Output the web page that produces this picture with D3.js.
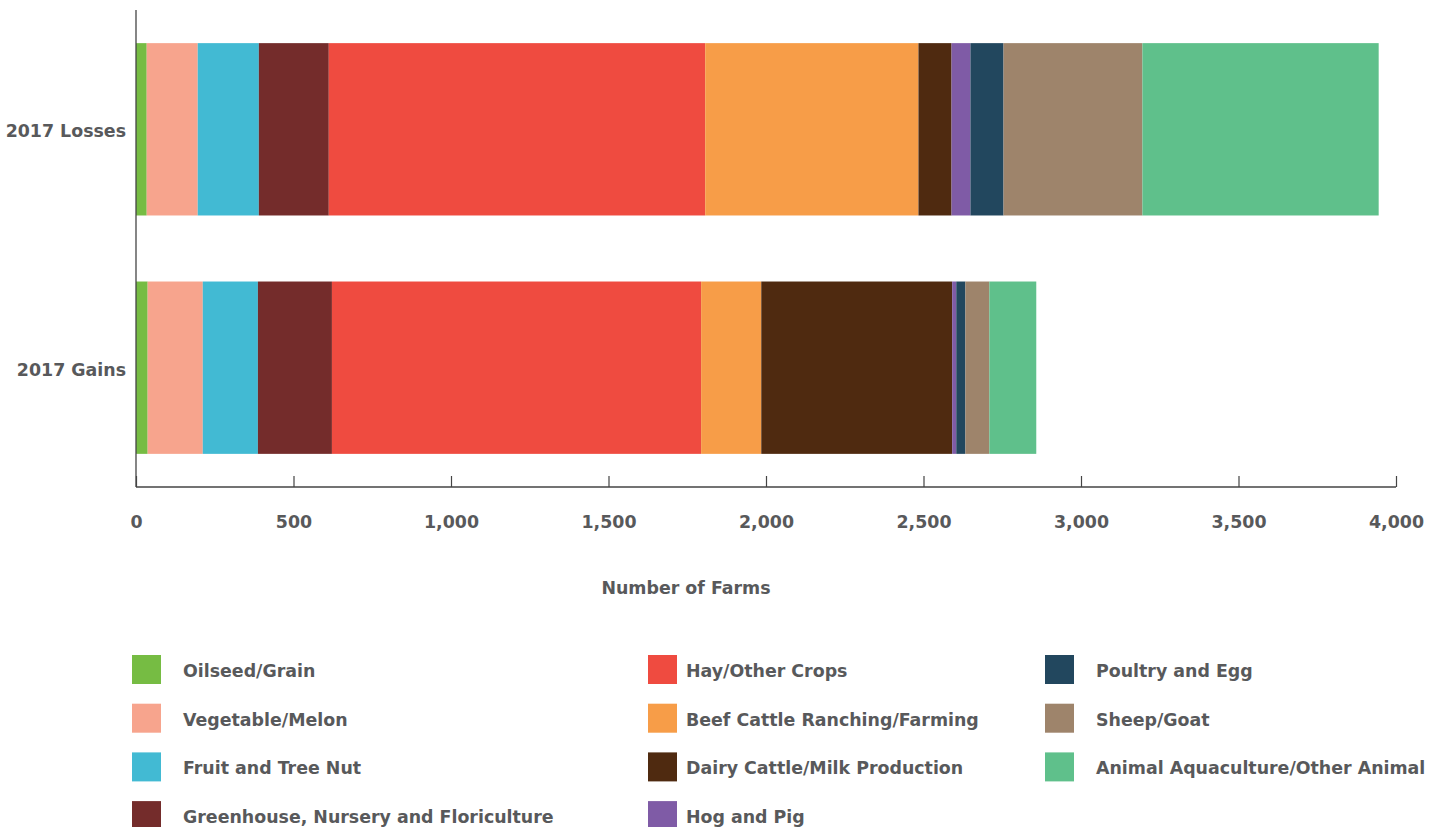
<!DOCTYPE html>
<html>
<head>
<meta charset="utf-8">
<script src="https://cdn.jsdelivr.net/npm/d3@7"></script>
<style>
  html, body { margin: 0; padding: 0; background: #fff; }
  svg text { font-family: "DejaVu Sans", Lato, sans-serif; font-weight: 700; fill: #58595b; }
</style>
</head>
<body>
<svg id="chart" width="1446" height="827"></svg>
<script>
// Farm types, in stacking order
const categories = [
  "Oilseed/Grain", "Vegetable/Melon", "Fruit and Tree Nut",
  "Greenhouse, Nursery and Floriculture", "Hay/Other Crops",
  "Beef Cattle Ranching/Farming", "Dairy Cattle/Milk Production",
  "Hog and Pig", "Poultry and Egg", "Sheep/Goat",
  "Animal Aquaculture/Other Animal"
];
const colors = [
  "#76bc43", "#f7a48d", "#42bad3", "#742c2b", "#ef4b40",
  "#f79d48", "#4f2a10", "#7f5ba6", "#22475e", "#9e846b", "#5fc08b"
];
const rows = ["2017 Losses", "2017 Gains"];
// Number of farms per type
const losses = [34, 162, 194, 222, 1195, 677, 105, 60, 105, 441, 750];
const gains  = [37, 175, 175, 235, 1172, 191, 606, 13, 29, 76, 149];
const xTicks = [0, 500, 1000, 1500, 2000, 2500, 3000, 3500, 4000];

const table = rows.map((r, i) => {
  const vals = i === 0 ? losses : gains;
  const o = { row: r };
  categories.forEach((c, j) => { o[c] = vals[j]; });
  return o;
});

const svg = d3.select("#chart");
const plotLeft = 136, plotRight = 1396, plotTop = 10, plotBottom = 487;
const fontSize = "17.4px";

const x = d3.scaleLinear().domain([0, 4000]).range([plotLeft, plotRight]);
const y = d3.scaleBand().domain(rows).range([plotTop, plotBottom])
  .paddingInner(0.277).paddingOuter(0.139);
const color = d3.scaleOrdinal().domain(categories).range(colors);

const series = d3.stack().keys(categories)(table);

svg.append("g").selectAll("g")
  .data(series).join("g")
  .attr("fill", d => color(d.key))
  .selectAll("rect")
  .data(d => d).join("rect")
  .attr("x", d => x(d[0]))
  .attr("width", d => x(d[1]) - x(d[0]))
  .attr("y", d => y(d.data.row))
  .attr("height", y.bandwidth());

// x axis: ticks point up into the plot, labels well below
const xAxis = svg.append("g")
  .attr("transform", `translate(0,${plotBottom})`)
  .call(d3.axisBottom(x).tickValues(xTicks).tickSize(-11).tickPadding(29)
    .tickFormat(d3.format(",")));
xAxis.select(".domain").attr("stroke", "#444").attr("stroke-width", 1.3)
  .attr("d", `M${plotLeft},0H${plotRight}`);
xAxis.selectAll(".tick line").attr("stroke", "#444").attr("stroke-width", 1.2);
xAxis.selectAll(".tick text").style("font-size", fontSize)
  .style("font-family", "'DejaVu Sans', sans-serif").attr("fill", "#58595b");

// y axis: plain line with category labels
svg.append("line")
  .attr("x1", plotLeft).attr("x2", plotLeft).attr("y1", plotTop).attr("y2", plotBottom)
  .attr("stroke", "#444").attr("stroke-width", 1.3);
svg.append("g").selectAll("text")
  .data(rows).join("text")
  .attr("x", 126)
  .attr("y", d => y(d) + y.bandwidth() / 2 + 2)
  .attr("dy", "0.35em")
  .attr("text-anchor", "end")
  .style("font-size", fontSize)
  .text(d => d);

svg.append("text")
  .attr("x", 686).attr("y", 588).attr("dy", "0.35em")
  .attr("text-anchor", "middle")
  .style("font-size", fontSize)
  .text("Number of Farms");

// legend, filled column by column
const colX = [132, 648, 1045];
const colTextX = [51, 38, 51];
const legend = svg.append("g").selectAll("g")
  .data(categories).join("g")
  .attr("transform", (d, i) => `translate(${colX[Math.floor(i / 4)]},${655 + (i % 4) * 48.7})`);
legend.append("rect")
  .attr("width", 29).attr("height", 29)
  .attr("fill", d => color(d));
legend.append("text")
  .attr("x", (d, i) => colTextX[Math.floor(i / 4)]).attr("y", 16).attr("dy", "0.35em")
  .style("font-size", fontSize)
  .text(d => d);
</script>
</body>
</html>
